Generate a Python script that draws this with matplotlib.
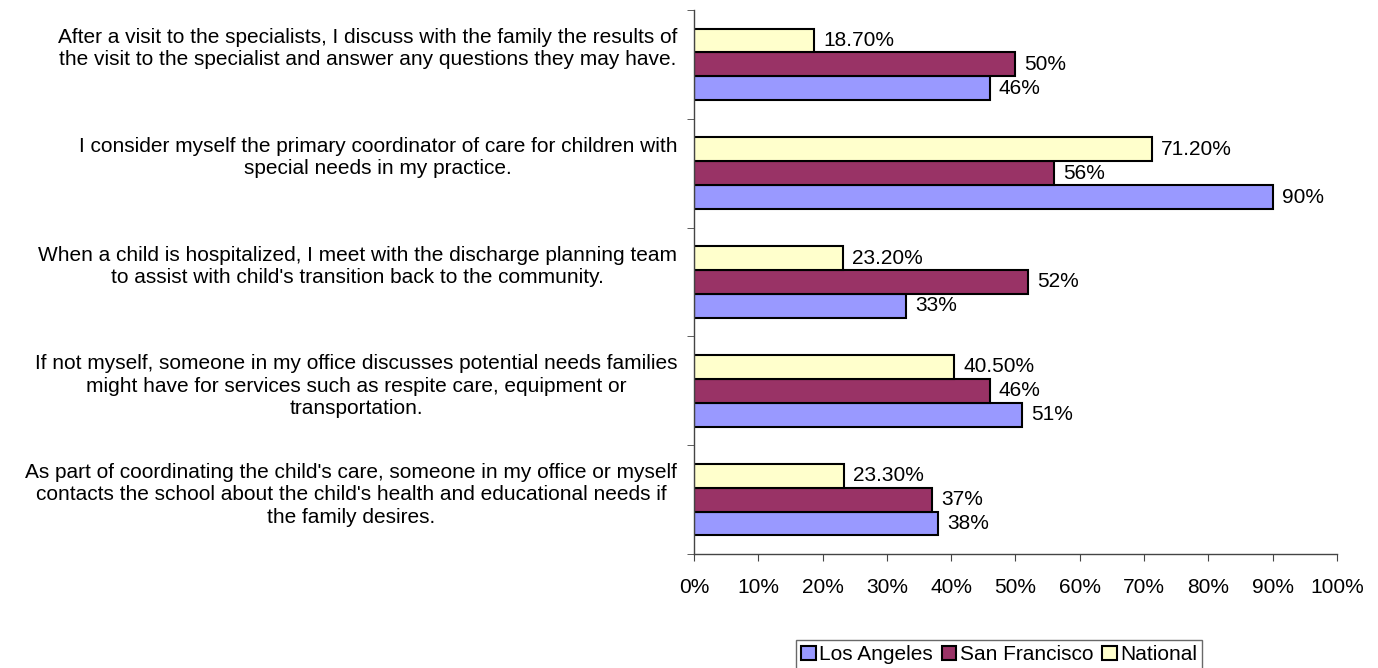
import numpy as np
import matplotlib.pyplot as plt
from matplotlib.ticker import FixedLocator, NullLocator

plt.rcParams['font.family'] = ['Liberation Sans', 'DejaVu Sans']

statements = [
    "After a visit to the specialists, I discuss with the family the results of\nthe visit to the specialist and answer any questions they may have.",
    "I consider myself the primary coordinator of care for children with\nspecial needs in my practice.",
    "When a child is hospitalized, I meet with the discharge planning team\nto assist with child's transition back to the community.",
    "If not myself, someone in my office discusses potential needs families\nmight have for services such as respite care, equipment or\ntransportation.",
    "As part of coordinating the child's care, someone in my office or myself\ncontacts the school about the child's health and educational needs if\nthe family desires.",
]
los_angeles = [46, 90, 33, 51, 38]
san_francisco = [50, 56, 52, 46, 37]
national = [18.7, 71.2, 23.2, 40.5, 23.3]
la_labels = ["46%", "90%", "33%", "51%", "38%"]
sf_labels = ["50%", "56%", "52%", "46%", "37%"]
nat_labels = ["18.70%", "71.20%", "23.20%", "40.50%", "23.30%"]

fig = plt.figure(figsize=(13.78, 6.68), dpi=100)
ax = fig.add_axes([0.5036, 0.1707, 0.4666, 0.8143])

n = len(statements)
y = np.arange(n)[::-1].astype(float)  # first statement at the top
h = 0.22

series = [
    (los_angeles, la_labels, "#9999FF", "Los Angeles", -h),
    (san_francisco, sf_labels, "#993366", "San Francisco", 0.0),
    (national, nat_labels, "#FFFFCC", "National", h),
]
handles = []
for vals, labels, color, name, off in series:
    bars = ax.barh(y + off, vals, height=h, color=color, edgecolor="black",
                   linewidth=1.5, label=name, zorder=2)
    handles.append(bars)
    for v, lab, yy in zip(vals, labels, y + off):
        ax.annotate(lab, (v, yy), xytext=(6.5, 0), textcoords="offset points",
                    va="center", ha="left", fontsize=15,
                    bbox=dict(facecolor="white", edgecolor="none", pad=0.3),
                    zorder=3)

# statement text: blocks share the same top offset from each group centre
for s, yc in zip(statements, y):
    ax.annotate(s, (0, yc + 0.335), xycoords=("axes fraction", "data"),
                xytext=(-12, 0), textcoords="offset points",
                ha="right", va="top", multialignment="center",
                fontsize=15, linespacing=1.22, annotation_clip=False)

ax.set_xlim(0, 100)
ax.set_ylim(-0.5, n - 0.5)
ax.set_xticks(np.arange(0, 101, 10))
ax.set_xticklabels([f"{t}%" for t in range(0, 101, 10)], fontsize=15)
ax.tick_params(axis="x", length=5, pad=12.5, color="#444444")

ax.yaxis.set_major_locator(NullLocator())
ax.yaxis.set_minor_locator(FixedLocator(np.arange(-0.5, n, 1.0)))
ax.tick_params(axis="y", which="minor", length=5, color="#444444")

for s in ["top", "right"]:
    ax.spines[s].set_visible(False)
for s in ["left", "bottom"]:
    ax.spines[s].set_color("#444444")
    ax.spines[s].set_linewidth(1.0)

leg = fig.legend(handles=handles, loc="center", bbox_to_anchor=(0.725, 0.02),
                 ncol=3, fontsize=15, frameon=True, fancybox=False,
                 handlelength=0.7, handleheight=0.7, handletextpad=0.15,
                 columnspacing=0.45, borderpad=0.25, borderaxespad=0)
leg.get_frame().set_edgecolor("#444444")
leg.get_frame().set_linewidth(1.0)

fig.savefig("out.png", dpi=100)
